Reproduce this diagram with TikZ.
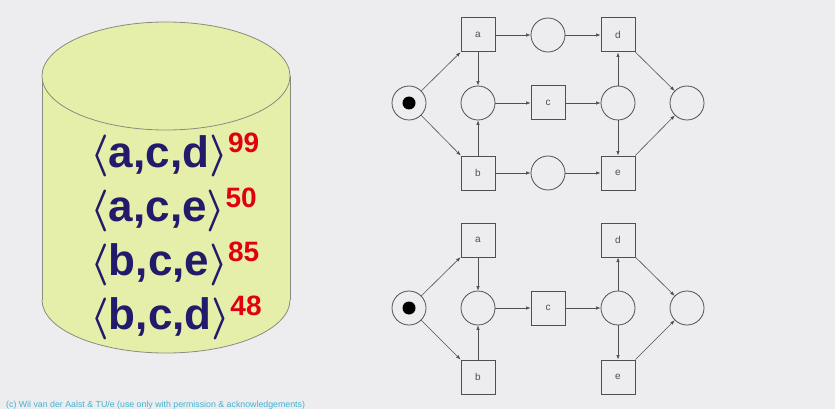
\documentclass[tikz,border=0pt]{standalone}
\usepackage{fontspec}
\usepackage{graphicx}
\setmainfont{Liberation Sans}
\usetikzlibrary{arrows.meta}
\definecolor{bg}{HTML}{EDEDEF}
\definecolor{cyl}{HTML}{E6EFAA}
\definecolor{cylline}{HTML}{8A8A80}
\definecolor{navy}{HTML}{221A6A}
\definecolor{cntred}{HTML}{E00010}
\definecolor{net}{HTML}{505050}
\definecolor{foot}{HTML}{3FB4D2}
\newcommand{\cntf}{\fontsize{28}{28}\selectfont\bfseries\color{cntred}}
\newcommand{\lang}{\scalebox{4.2}{\fontsize{10}{12}\selectfont\boldmath$\langle$}}
\newcommand{\rang}{\scalebox{4.2}{\fontsize{10}{12}\selectfont\boldmath$\rangle$}}
\begin{document}
\begin{tikzpicture}[x=1pt,y=-1pt,
  place/.style={circle,draw=net,line width=0.8pt,minimum size=34pt,inner sep=0pt},
  trans/.style={rectangle,draw=net,line width=1pt,minimum size=34pt,inner sep=0pt,
    font=\fontsize{10}{10}\selectfont,text=net},
  token/.style={circle,fill=black,minimum size=13pt,inner sep=0pt},
  arc/.style={draw=net,line width=0.6pt,-{Latex[length=4.5pt,width=3.5pt]}},
  trace/.style={anchor=base west,text=navy,inner sep=0pt,
    font=\fontsize{44}{44}\selectfont\bfseries}]
\fill[bg] (0,0) rectangle (835,409);
\useasboundingbox (0,0) rectangle (835,409);
% cylinder
\fill[cyl] (42,76) rectangle (290,300);
\fill[cyl] (166,300) ellipse [x radius=124, y radius=53];
\begin{scope}
\clip (30,300) rectangle (300,370);
\draw[cylline,line width=0.8pt] (166,300) ellipse [x radius=124, y radius=53];
\end{scope}
\draw[cylline,line width=0.8pt] (42,76) -- (42,300) (290,76) -- (290,300);
\draw[cylline,fill=cyl,line width=0.8pt] (166,76) ellipse [x radius=124, y radius=54];
% traces
\node[trace] (r1) at (90,167) {\lang a,c,d\rang\raisebox{14pt}{\cntf 99}};
\node[trace] (r2) at (90,221) {\lang a,c,e\rang\raisebox{14pt}{\cntf 50}};
\node[trace] (r3) at (90,275) {\lang b,c,e\rang\raisebox{14pt}{\cntf 85}};
\node[trace] (r4) at (90,329) {\lang b,c,d\rang\raisebox{14pt}{\cntf 48}};
% top net
\node[place] (s1) at (409,103) {};
\node[token] (k1) at (409,103) {};
\node[trans] (a1) at (478,35) {a};
\node[place] (pt1) at (548,35) {};
\node[trans] (d1) at (618,35) {d};
\node[place] (pl1) at (478,103) {};
\node[trans] (c1) at (548,103) {c};
\node[place] (pr1) at (618,103) {};
\node[place] (f1) at (687,103) {};
\node[trans] (b1) at (478,173) {b};
\node[place] (pb1) at (548,173) {};
\node[trans] (e1) at (618,173) {e};
\draw[arc] (s1) -- (a1);
\draw[arc] (s1) -- (b1);
\draw[arc] (a1) -- (pt1);
\draw[arc] (pt1) -- (d1);
\draw[arc] (a1) -- (pl1);
\draw[arc] (b1) -- (pl1);
\draw[arc] (pl1) -- (c1);
\draw[arc] (c1) -- (pr1);
\draw[arc] (pr1) -- (d1);
\draw[arc] (pr1) -- (e1);
\draw[arc] (b1) -- (pb1);
\draw[arc] (pb1) -- (e1);
\draw[arc] (d1) -- (f1);
\draw[arc] (e1) -- (f1);
% bottom net
\node[place] (s2) at (409,308) {};
\node[token] (k2) at (409,308) {};
\node[trans] (a2) at (478,240) {a};
\node[trans] (b2) at (478,377) {b};
\node[place] (pl2) at (478,308) {};
\node[trans] (c2) at (548,308) {c};
\node[place] (pr2) at (618,308) {};
\node[trans] (d2) at (618,240) {d};
\node[trans] (e2) at (618,377) {e};
\node[place] (f2) at (687,308) {};
\draw[arc] (s2) -- (a2);
\draw[arc] (s2) -- (b2);
\draw[arc] (a2) -- (pl2);
\draw[arc] (b2) -- (pl2);
\draw[arc] (pl2) -- (c2);
\draw[arc] (c2) -- (pr2);
\draw[arc] (pr2) -- (d2);
\draw[arc] (pr2) -- (e2);
\draw[arc] (d2) -- (f2);
\draw[arc] (e2) -- (f2);
% footer
\node[anchor=base west,inner sep=0pt,text=foot,font=\fontsize{8.8}{8.8}\selectfont] (ft) at (6,407)
  {(c) Wil van der Aalst \& TU/e (use only with permission \& acknowledgements)};
\end{tikzpicture}
\end{document}
